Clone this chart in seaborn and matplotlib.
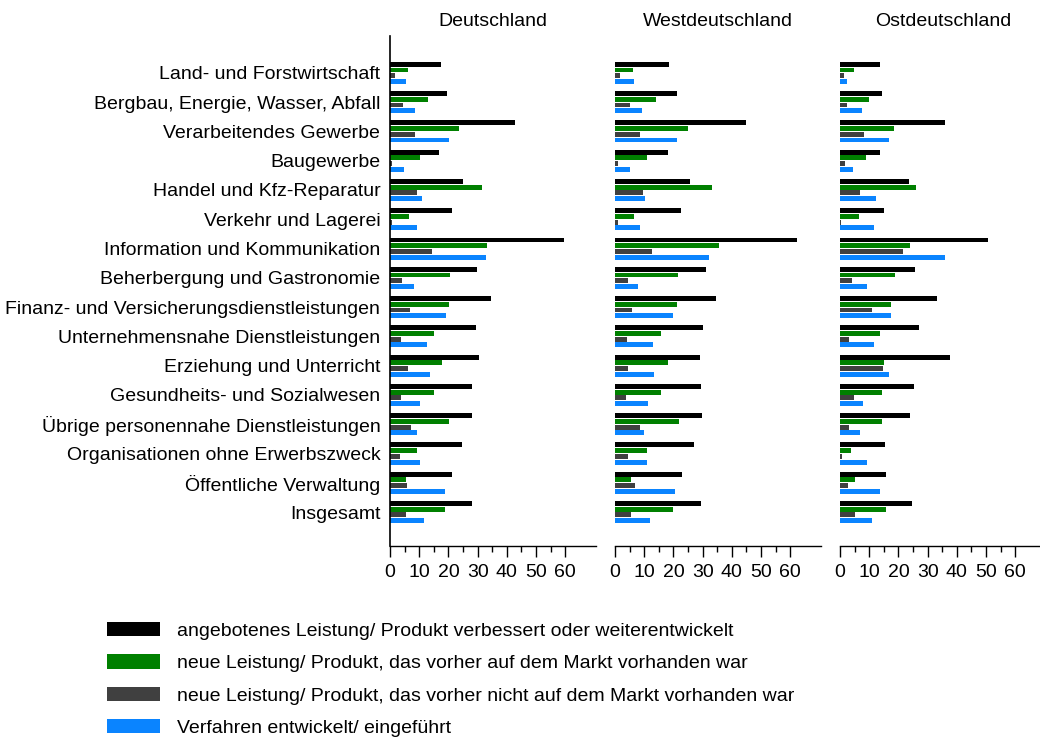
import pandas as pd
import matplotlib.pyplot as plt
import seaborn as sns
from matplotlib.ticker import FixedLocator

# Data (percent of firms)
branchen = [
    "Land- und Forstwirtschaft",
    "Bergbau, Energie, Wasser, Abfall",
    "Verarbeitendes Gewerbe",
    "Baugewerbe",
    "Handel und Kfz-Reparatur",
    "Verkehr und Lagerei",
    "Information und Kommunikation",
    "Beherbergung und Gastronomie",
    "Finanz- und Versicherungsdienstleistungen",
    "Unternehmensnahe Dienstleistungen",
    "Erziehung und Unterricht",
    "Gesundheits- und Sozialwesen",
    "Übrige personennahe Dienstleistungen",
    "Organisationen ohne Erwerbszweck",
    "Öffentliche Verwaltung",
    "Insgesamt",
]
serien = [
    "angebotenes Leistung/ Produkt verbessert oder weiterentwickelt",
    "neue Leistung/ Produkt, das vorher auf dem Markt vorhanden war",
    "neue Leistung/ Produkt, das vorher nicht auf dem Markt vorhanden war",
    "Verfahren entwickelt/ eingeführt",
]
regionen = ["Deutschland", "Westdeutschland", "Ostdeutschland"]
x_ticks = [0, 10, 20, 30, 40, 50, 60]

de_verbessert = [17.5, 19.5, 42.9, 16.9, 25.1, 21.1, 59.7, 29.9, 34.4, 29.5, 30.5, 28.2, 28.2, 24.5, 21.1, 28.2]
de_neu_vorh   = [6.0, 13.0, 23.7, 10.3, 31.5, 6.5, 33.3, 20.6, 20.3, 15.0, 17.8, 15.0, 20.1, 9.4, 5.4, 18.9]
de_neu_markt  = [1.7, 4.5, 8.5, 0.8, 9.1, 0.6, 14.4, 4.2, 6.7, 3.9, 6.3, 3.9, 7.2, 3.3, 5.7, 5.4]
de_verfahren  = [5.6, 8.7, 20.1, 4.8, 10.8, 9.1, 32.8, 8.1, 19.3, 12.5, 13.6, 10.2, 9.4, 10.4, 18.9, 11.8]

west_verbessert = [18.4, 21.2, 44.9, 18.1, 25.7, 22.6, 62.2, 31.3, 34.7, 30.2, 29.1, 29.4, 29.7, 27.1, 22.9, 29.4]
west_neu_vorh   = [6.3, 14.1, 25.1, 10.9, 33.1, 6.5, 35.6, 21.4, 21.1, 15.8, 18.3, 15.6, 21.8, 10.9, 5.5, 20.0]
west_neu_markt  = [1.8, 5.1, 8.6, 0.9, 9.6, 0.9, 12.7, 4.4, 5.9, 4.1, 4.5, 3.8, 8.4, 4.4, 6.7, 5.5]
west_verfahren  = [6.5, 9.2, 21.2, 5.1, 10.4, 8.6, 32.3, 7.8, 19.7, 12.9, 13.2, 11.2, 10.0, 10.9, 20.6, 12.1]

ost_verbessert = [13.8, 14.4, 36.1, 13.8, 23.7, 15.2, 50.8, 25.6, 33.3, 27.1, 37.7, 25.4, 24.1, 15.5, 15.7, 24.8]
ost_neu_vorh   = [4.7, 9.9, 18.6, 9.0, 26.0, 6.4, 23.9, 18.9, 17.5, 13.6, 15.2, 14.4, 14.4, 3.9, 5.3, 15.7]
ost_neu_markt  = [1.4, 2.5, 8.2, 1.6, 6.8, 0.5, 21.7, 4.1, 10.9, 3.0, 14.8, 4.7, 3.2, 0.8, 2.8, 5.1]
ost_verfahren  = [2.5, 7.6, 16.9, 4.5, 12.4, 11.5, 36.1, 9.2, 17.5, 11.5, 16.7, 7.8, 7.0, 9.2, 13.6, 11.1]

werte = {
    "Deutschland": [de_verbessert, de_neu_vorh, de_neu_markt, de_verfahren],
    "Westdeutschland": [west_verbessert, west_neu_vorh, west_neu_markt, west_verfahren],
    "Ostdeutschland": [ost_verbessert, ost_neu_vorh, ost_neu_markt, ost_verfahren],
}

rows = []
for region in regionen:
    for s, vals in zip(serien, werte[region]):
        for b, v in zip(branchen, vals):
            rows.append({"region": region, "branche": b, "serie": s, "wert": v})
df = pd.DataFrame(rows)

farben = ["#000000", "#008000", "#404040", "#0A84FF"]

sns.set_style("white")
plt.rcParams["font.family"] = ["Liberation Sans", "DejaVu Sans"]
plt.rcParams["font.size"] = 14
plt.rcParams["text.color"] = "black"
plt.rcParams["xtick.color"] = "black"
plt.rcParams["ytick.color"] = "black"

fig = plt.figure(figsize=(10.4, 7.47), dpi=100)
W, H = 1040, 747
lefts = [390, 615, 840]

for i, region in enumerate(regionen):
    ax = fig.add_axes([lefts[i] / W, (H - 546) / H, 206 / W, 510 / H])
    sns.barplot(data=df[df["region"] == region], x="wert", y="branche", hue="serie",
                hue_order=serien, order=branchen, palette=farben, saturation=1,
                width=0.78, gap=0.14, linewidth=0, orient="h", ax=ax,
                legend=(i == 0))
    ax.set_xlim(0, 70.5)
    ax.set_ylim(16.16, -1.26)
    ax.set_xticks(x_ticks)
    ax.xaxis.set_minor_locator(FixedLocator([5, 15, 25, 35, 45, 55]))
    ax.tick_params(axis="x", which="major", length=8, width=1.0, direction="out",
                   bottom=True, labelsize=14, pad=5)
    ax.tick_params(axis="x", which="minor", length=4.5, width=1.0, direction="out",
                   bottom=True)
    ax.tick_params(axis="y", length=0, pad=7, labelsize=14)
    ax.set_xlabel("")
    ax.set_ylabel("")
    ax.set_title(region, fontsize=14, pad=7)
    for side in ["top", "right"]:
        ax.spines[side].set_visible(False)
    ax.spines["bottom"].set_color("black")
    ax.spines["bottom"].set_linewidth(1.0)
    if i == 0:
        ax.spines["left"].set_color("black")
        ax.spines["left"].set_linewidth(1.2)
        handles, labels = ax.get_legend_handles_labels()
        ax.get_legend().remove()
    else:
        ax.spines["left"].set_visible(False)
        ax.set_yticklabels([])

fig.legend(handles, labels, loc="upper left", bbox_to_anchor=(99 / W, 1 - 614 / H),
           frameon=False, fontsize=14, handlelength=2.75, handleheight=0.75,
           handletextpad=0.85, labelspacing=0.75, borderaxespad=0)

fig.savefig("out.png", dpi=100)
